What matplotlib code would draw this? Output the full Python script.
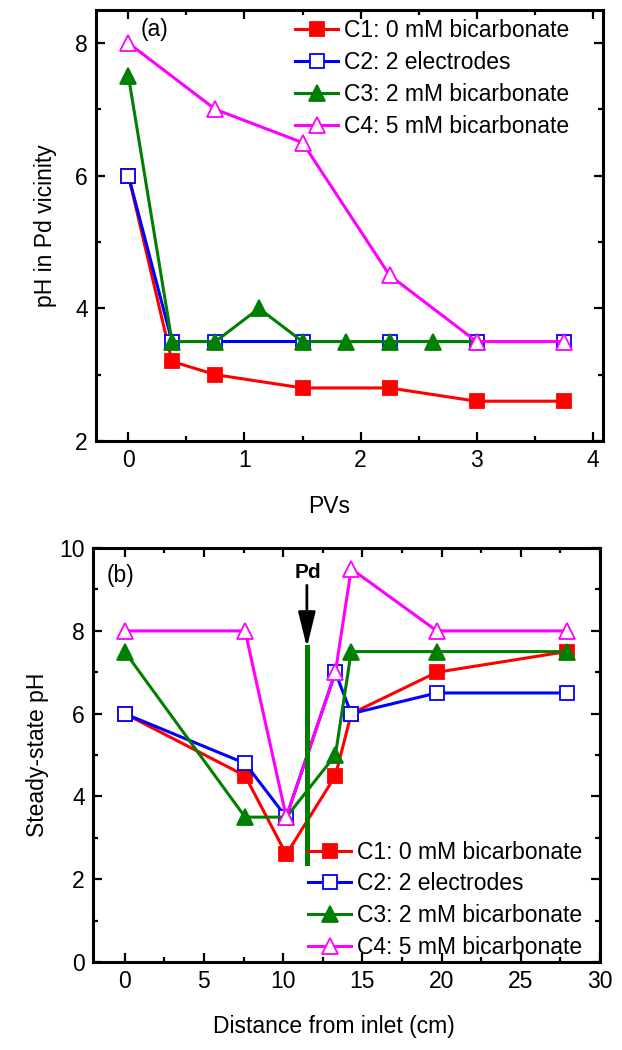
import numpy as np
import matplotlib
matplotlib.use("Agg")
import matplotlib.pyplot as plt
from matplotlib.ticker import MultipleLocator

plt.rcParams['font.family'] = ['Liberation Sans', 'DejaVu Sans']

# ---- data, panel (a): pH near Pd vs pore volumes ----
pv_c1 = [0, 0.375, 0.75, 1.5, 2.25, 3.0, 3.75]
ph_c1 = [6.0, 3.2, 3.0, 2.8, 2.8, 2.6, 2.6]
pv_c2 = [0, 0.375, 0.75, 1.5, 2.25, 3.0, 3.75]
ph_c2 = [6.0, 3.5, 3.5, 3.5, 3.5, 3.5, 3.5]
pv_c3 = [0, 0.375, 0.75, 1.125, 1.5, 1.875, 2.25, 2.625, 3.0]
ph_c3 = [7.5, 3.5, 3.5, 4.0, 3.5, 3.5, 3.5, 3.5, 3.5]
pv_c4 = [0, 0.75, 1.5, 2.25, 3.0, 3.75]
ph_c4 = [8.0, 7.0, 6.5, 4.5, 3.5, 3.5]

# ---- data, panel (b): steady-state pH along the column ----
dist = [0, 7.6, 10.2, 13.3, 14.3, 19.7, 27.9]
ss_c1 = [6.0, 4.5, 2.6, 4.5, 6.0, 7.0, 7.5]
ss_c2 = [6.0, 4.8, 3.5, 7.0, 6.0, 6.5, 6.5]
ss_c3 = [7.5, 3.5, 3.5, 5.0, 7.5, 7.5, 7.5]
ss_c4 = [8.0, 8.0, 3.5, 7.0, 9.5, 8.0, 8.0]

pd_x = 11.5            # Pd location (cm)
pd_span = (2.4, 7.6)   # extent of the Pd bar
pd_arrow = (9.1, 7.6)  # arrow start / tip

labels = ["C1: 0 mM bicarbonate", "C2: 2 electrodes",
          "C3: 2 mM bicarbonate", "C4: 5 mM bicarbonate"]

styles = [dict(color='#ff0000', marker='s', mfc='#ff0000', mec='#ff0000', ms=9.5),
          dict(color='#0000ff', marker='s', mfc='white', mec='#0000ff', ms=9.5),
          dict(color='#008000', marker='^', mfc='#008000', mec='#008000', ms=11.5),
          dict(color='#ff00ff', marker='^', mfc='white', mec='#ff00ff', ms=11.5)]

FS = 16.5

fig = plt.figure(figsize=(6.22, 10.5), dpi=100)
ax1 = fig.add_axes([0.1543, 0.580, 0.8152, 0.4105])
ax2 = fig.add_axes([0.1495, 0.0838, 0.8151, 0.3942])


def style_axes(ax):
    for s in ax.spines.values():
        s.set_linewidth(2.2)
    ax.tick_params(which='both', direction='in', top=True, right=True,
                   labelsize=FS, pad=6, width=1.6)
    ax.tick_params(which='major', length=6.5)
    ax.tick_params(which='minor', length=3.5)


# panel (a)
for x, y, lab, st in zip([pv_c1, pv_c2, pv_c3, pv_c4],
                         [ph_c1, ph_c2, ph_c3, ph_c4], labels, styles):
    ax1.plot(x, y, lw=2.2, mew=1.3, label=lab, **st)
ax1.set_xlim(-0.28, 4.09)
ax1.set_ylim(2, 8.5)
ax1.xaxis.set_major_locator(MultipleLocator(1))
ax1.xaxis.set_minor_locator(MultipleLocator(0.5))
ax1.yaxis.set_major_locator(MultipleLocator(2))
ax1.yaxis.set_minor_locator(MultipleLocator(1))
style_axes(ax1)
ax1.set_xlabel("PVs", fontsize=FS, va='center')
ax1.set_ylabel("pH in Pd vicinity", fontsize=FS, va='center')
ax1.xaxis.set_label_coords(0.46, -0.153)
ax1.yaxis.set_label_coords(-0.1, 0.5)
ax1.text(0.115, 0.955, "(a)", transform=ax1.transAxes, fontsize=FS,
         ha='center', va='center')
ax1.legend(loc='upper left', bbox_to_anchor=(0.392, 0.978), frameon=False,
           fontsize=FS, handlelength=1.9, handletextpad=0.25,
           labelspacing=0.38, borderpad=0, borderaxespad=0)

# panel (b)
for y, lab, st in zip([ss_c1, ss_c2, ss_c3, ss_c4], labels, styles):
    ax2.plot(dist, y, lw=2.2, mew=1.3, label=lab, **st)
ax2.plot([pd_x, pd_x], pd_span, color='#008000', lw=3.6, zorder=5)
ax2.annotate("", xy=(pd_x, pd_arrow[1]), xytext=(pd_x, pd_arrow[0]),
             arrowprops=dict(arrowstyle='-|>,head_length=0.9,head_width=0.22',
                             color='black', lw=2.0,
                             mutation_scale=24, shrinkA=0, shrinkB=0),
             zorder=6)
ax2.text(pd_x + 0.05, 9.4, "Pd", fontsize=15, fontweight='bold',
         ha='center', va='center')
ax2.set_xlim(-2, 30)
ax2.set_ylim(0, 10)
ax2.xaxis.set_major_locator(MultipleLocator(5))
ax2.xaxis.set_minor_locator(MultipleLocator(2.5))
ax2.yaxis.set_major_locator(MultipleLocator(2))
ax2.yaxis.set_minor_locator(MultipleLocator(1))
style_axes(ax2)
ax2.set_xlabel("Distance from inlet (cm)", fontsize=FS, va='center')
ax2.set_ylabel("Steady-state pH", fontsize=FS, va='center')
ax2.xaxis.set_label_coords(0.476, -0.157)
ax2.yaxis.set_label_coords(-0.11, 0.5)
ax2.text(0.055, 0.935, "(b)", transform=ax2.transAxes, fontsize=FS,
         ha='center', va='center')
ax2.legend(loc='lower left', bbox_to_anchor=(0.424, 0.008), frameon=False,
           fontsize=FS, handlelength=1.9, handletextpad=0.25,
           labelspacing=0.38, borderpad=0, borderaxespad=0)

fig.savefig("out.png", dpi=100)
